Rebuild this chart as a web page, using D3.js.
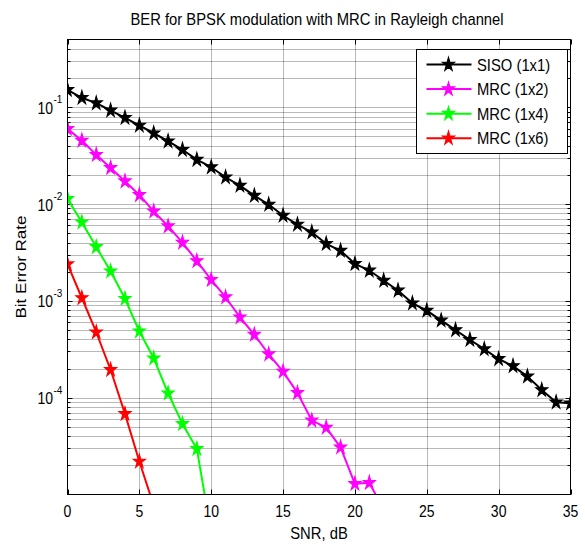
<!DOCTYPE html>
<html>
<head>
<meta charset="utf-8">
<script src="https://cdn.jsdelivr.net/npm/d3@7"></script>
<style>
  html, body { margin: 0; padding: 0; background: #fff; }
  svg { display: block; }
  text { font-family: "Liberation Sans", Arial, Helvetica, sans-serif; fill: #000; }
</style>
</head>
<body>
<svg id="chart" width="585" height="544"></svg>
<script>
// SNR points (dB) for each curve
const snrSiso = [0,1,2,3,4,5,6,7,8,9,10,11,12,13,14,15,16,17,18,19,20,21,22,23,24,25,26,27,28,29,30,31,32,33,34,35];
const snrMrc2 = [0,1,2,3,4,5,6,7,8,9,10,11,12,13,14,15,16,17,18,19,20,21,22];
const snrMrc4 = [0,1,2,3,4,5,6,7,8,9,10];
const snrMrc6 = [0,1,2,3,4,5,6];

// Simulated bit error rates
const berSiso = [0.151,0.125,0.110,0.0925,0.0777,0.0647,0.0538,0.0445,0.0363,0.0287,
                 0.0240,0.0189,0.0155,0.0122,0.00987,0.0076,0.00614,0.0051,0.00388,0.0033,
                 0.00241,0.00206,0.00162,0.00128,0.000944,0.000793,0.000628,0.000499,0.000396,0.000317,
                 0.000251,0.000212,0.000166,0.00012,0.0000895,0.0000875];
const berMrc2 = [0.0598,0.0452,0.0322,0.0236,0.0172,0.0124,0.0084,0.0059,0.0040,0.00258,
                 0.00165,0.00109,0.000677,0.000448,0.000281,0.000186,0.000112,0.0000582,0.0000491,0.0000307,
                 0.0000129,0.0000132,0.000007];
const berMrc4 = [0.0113,0.00648,0.0036,0.00202,0.00105,0.000485,0.000255,0.000111,0.0000536,0.0000296,0.000004];
const berMrc6 = [0.00239,0.00107,0.000474,0.000194,0.000068,0.0000219,0.0000077];

const seriesNames  = ["SISO (1x1)", "MRC (1x2)", "MRC (1x4)", "MRC (1x6)"];
const seriesColors = ["#000000", "#ff00ff", "#00ff00", "#ff0000"];

// Axis ticks
const xTicks = [0,5,10,15,20,25,30,35];
const xTickLabels = ["0","5","10","15","20","25","30","35"];
const yDecades = [1e-1,1e-2,1e-3,1e-4];
const yDecadeExp = ["-1","-2","-3","-4"];
const xDomain = [0, 35];
const yDomain = [1e-5, 0.5];

const title = "BER for BPSK modulation with MRC in Rayleigh channel";
const xLabel = "SNR, dB";
const yLabel = "Bit Error Rate";

// ---- layout ----
const pL = 67.5, pR = 570.5, pT = 39.5, pB = 494.5;
const SY = 1.15; // vertical text stretch

const svg = d3.select("#chart");
const x = d3.scaleLinear().domain(xDomain).range([pL, pR]);
const y = d3.scaleLog().domain(yDomain).range([pB, pT]);

function label(g, px, py, str, size, anchor, extra) {
  return g.append("text")
    .attr("transform", `translate(${px},${py}) ${extra || `scale(1,${SY})`}`)
    .attr("font-size", size)
    .attr("text-anchor", anchor)
    .text(str);
}

// all minor/major log positions inside the domain
const yGridVals = [];
for (let e = -5; e <= -1; e++) {
  for (let m = 1; m <= 9; m++) {
    const v = m * Math.pow(10, e);
    if (v > yDomain[0] * 1.0001 && v < yDomain[1] * 0.9999) yGridVals.push(v);
  }
}

const gridG = svg.append("g").attr("stroke", "#000").attr("stroke-opacity", 0.55)
  .attr("stroke-dasharray", "1,1").attr("stroke-width", 1).attr("fill", "none");
gridG.selectAll("line.gx").data(xTicks.filter(t => t > xDomain[0] && t < xDomain[1]))
  .join("line").attr("class", "gx")
  .attr("x1", d => Math.round(x(d)) + 0.5).attr("x2", d => Math.round(x(d)) + 0.5)
  .attr("y1", pT).attr("y2", pB);
gridG.selectAll("line.gy").data(yGridVals)
  .join("line").attr("class", "gy")
  .attr("x1", pL).attr("x2", pR)
  .attr("y1", d => Math.round(y(d)) + 0.5).attr("y2", d => Math.round(y(d)) + 0.5);

// ticks on all four sides, pointing inward
const tickG = svg.append("g").attr("stroke", "#000").attr("stroke-width", 1);
xTicks.forEach(t => {
  const px = Math.round(x(t)) + 0.5;
  tickG.append("line").attr("x1", px).attr("x2", px).attr("y1", pB).attr("y2", pB - 5);
  tickG.append("line").attr("x1", px).attr("x2", px).attr("y1", pT).attr("y2", pT + 5);
});
yGridVals.forEach(v => {
  const py = Math.round(y(v)) + 0.5;
  const major = yDecades.includes(v);
  const len = major ? 5 : 3;
  tickG.append("line").attr("x1", pL).attr("x2", pL + len).attr("y1", py).attr("y2", py);
  tickG.append("line").attr("x1", pR).attr("x2", pR - len).attr("y1", py).attr("y2", py);
});

// curves
svg.append("defs").append("clipPath").attr("id", "plotClip")
  .append("rect").attr("x", pL).attr("y", pT).attr("width", pR - pL).attr("height", pB - pT);

const series = [
  { xs: snrSiso, ys: berSiso },
  { xs: snrMrc2, ys: berMrc2 },
  { xs: snrMrc4, ys: berMrc4 },
  { xs: snrMrc6, ys: berMrc6 }
];
const line = d3.line().x(d => x(d[0])).y(d => y(d[1]));
const star = d3.symbol().type(d3.symbolStar).size(46);

const plotG = svg.append("g").attr("clip-path", "url(#plotClip)");
series.forEach((s, i) => {
  const pts = s.xs.map((xv, k) => [xv, s.ys[k]]);
  const g = plotG.append("g");
  g.append("path").datum(pts).attr("d", line)
    .attr("fill", "none").attr("stroke", seriesColors[i]).attr("stroke-width", 2)
    .attr("stroke-linejoin", "round");
  g.selectAll("path.mk").data(pts).join("path").attr("class", "mk")
    .attr("d", star)
    .attr("transform", d => `translate(${x(d[0])},${y(d[1])}) scale(1,${SY})`)
    .attr("fill", seriesColors[i]).attr("stroke", seriesColors[i]).attr("stroke-width", 1)
    .attr("stroke-linejoin", "miter");
});

// axes box
svg.append("rect").attr("x", pL).attr("y", pT).attr("width", pR - pL).attr("height", pB - pT)
  .attr("fill", "none").attr("stroke", "#000").attr("stroke-width", 1);

// tick labels
xTicks.forEach((t, i) => label(svg, x(t), 517, xTickLabels[i], 14, "middle"));
yDecades.forEach((v, i) => {
  const py = y(v);
  label(svg, 53, py + 6.5, "10", 14, "end");
  label(svg, 53.5, py - 4, yDecadeExp[i], 10, "start");
});

// titles
label(svg, 317, 24.5, title, 14.8, "middle");
label(svg, 319, 539, xLabel, 14.8, "middle");
label(svg, 26, 267, yLabel, 14.8, "middle", `rotate(-90) scale(${SY},1)`);

// legend
const lg = svg.append("g");
lg.append("rect").attr("x", 416.5).attr("y", 49.5).attr("width", 151).attr("height", 104)
  .attr("fill", "#fff").attr("stroke", "#000").attr("stroke-width", 1);
seriesNames.forEach((name, i) => {
  const ly = 64.5 + i * 24.6;
  lg.append("line").attr("x1", 426.5).attr("x2", 471.5).attr("y1", ly).attr("y2", ly)
    .attr("stroke", seriesColors[i]).attr("stroke-width", 2);
  lg.append("path").attr("d", star)
    .attr("transform", `translate(448.5,${ly}) scale(1,${SY})`)
    .attr("fill", seriesColors[i]).attr("stroke", seriesColors[i]).attr("stroke-width", 1);
  label(lg, 477, ly + 6, name, 14.8, "start");
});
</script>
</body>
</html>
